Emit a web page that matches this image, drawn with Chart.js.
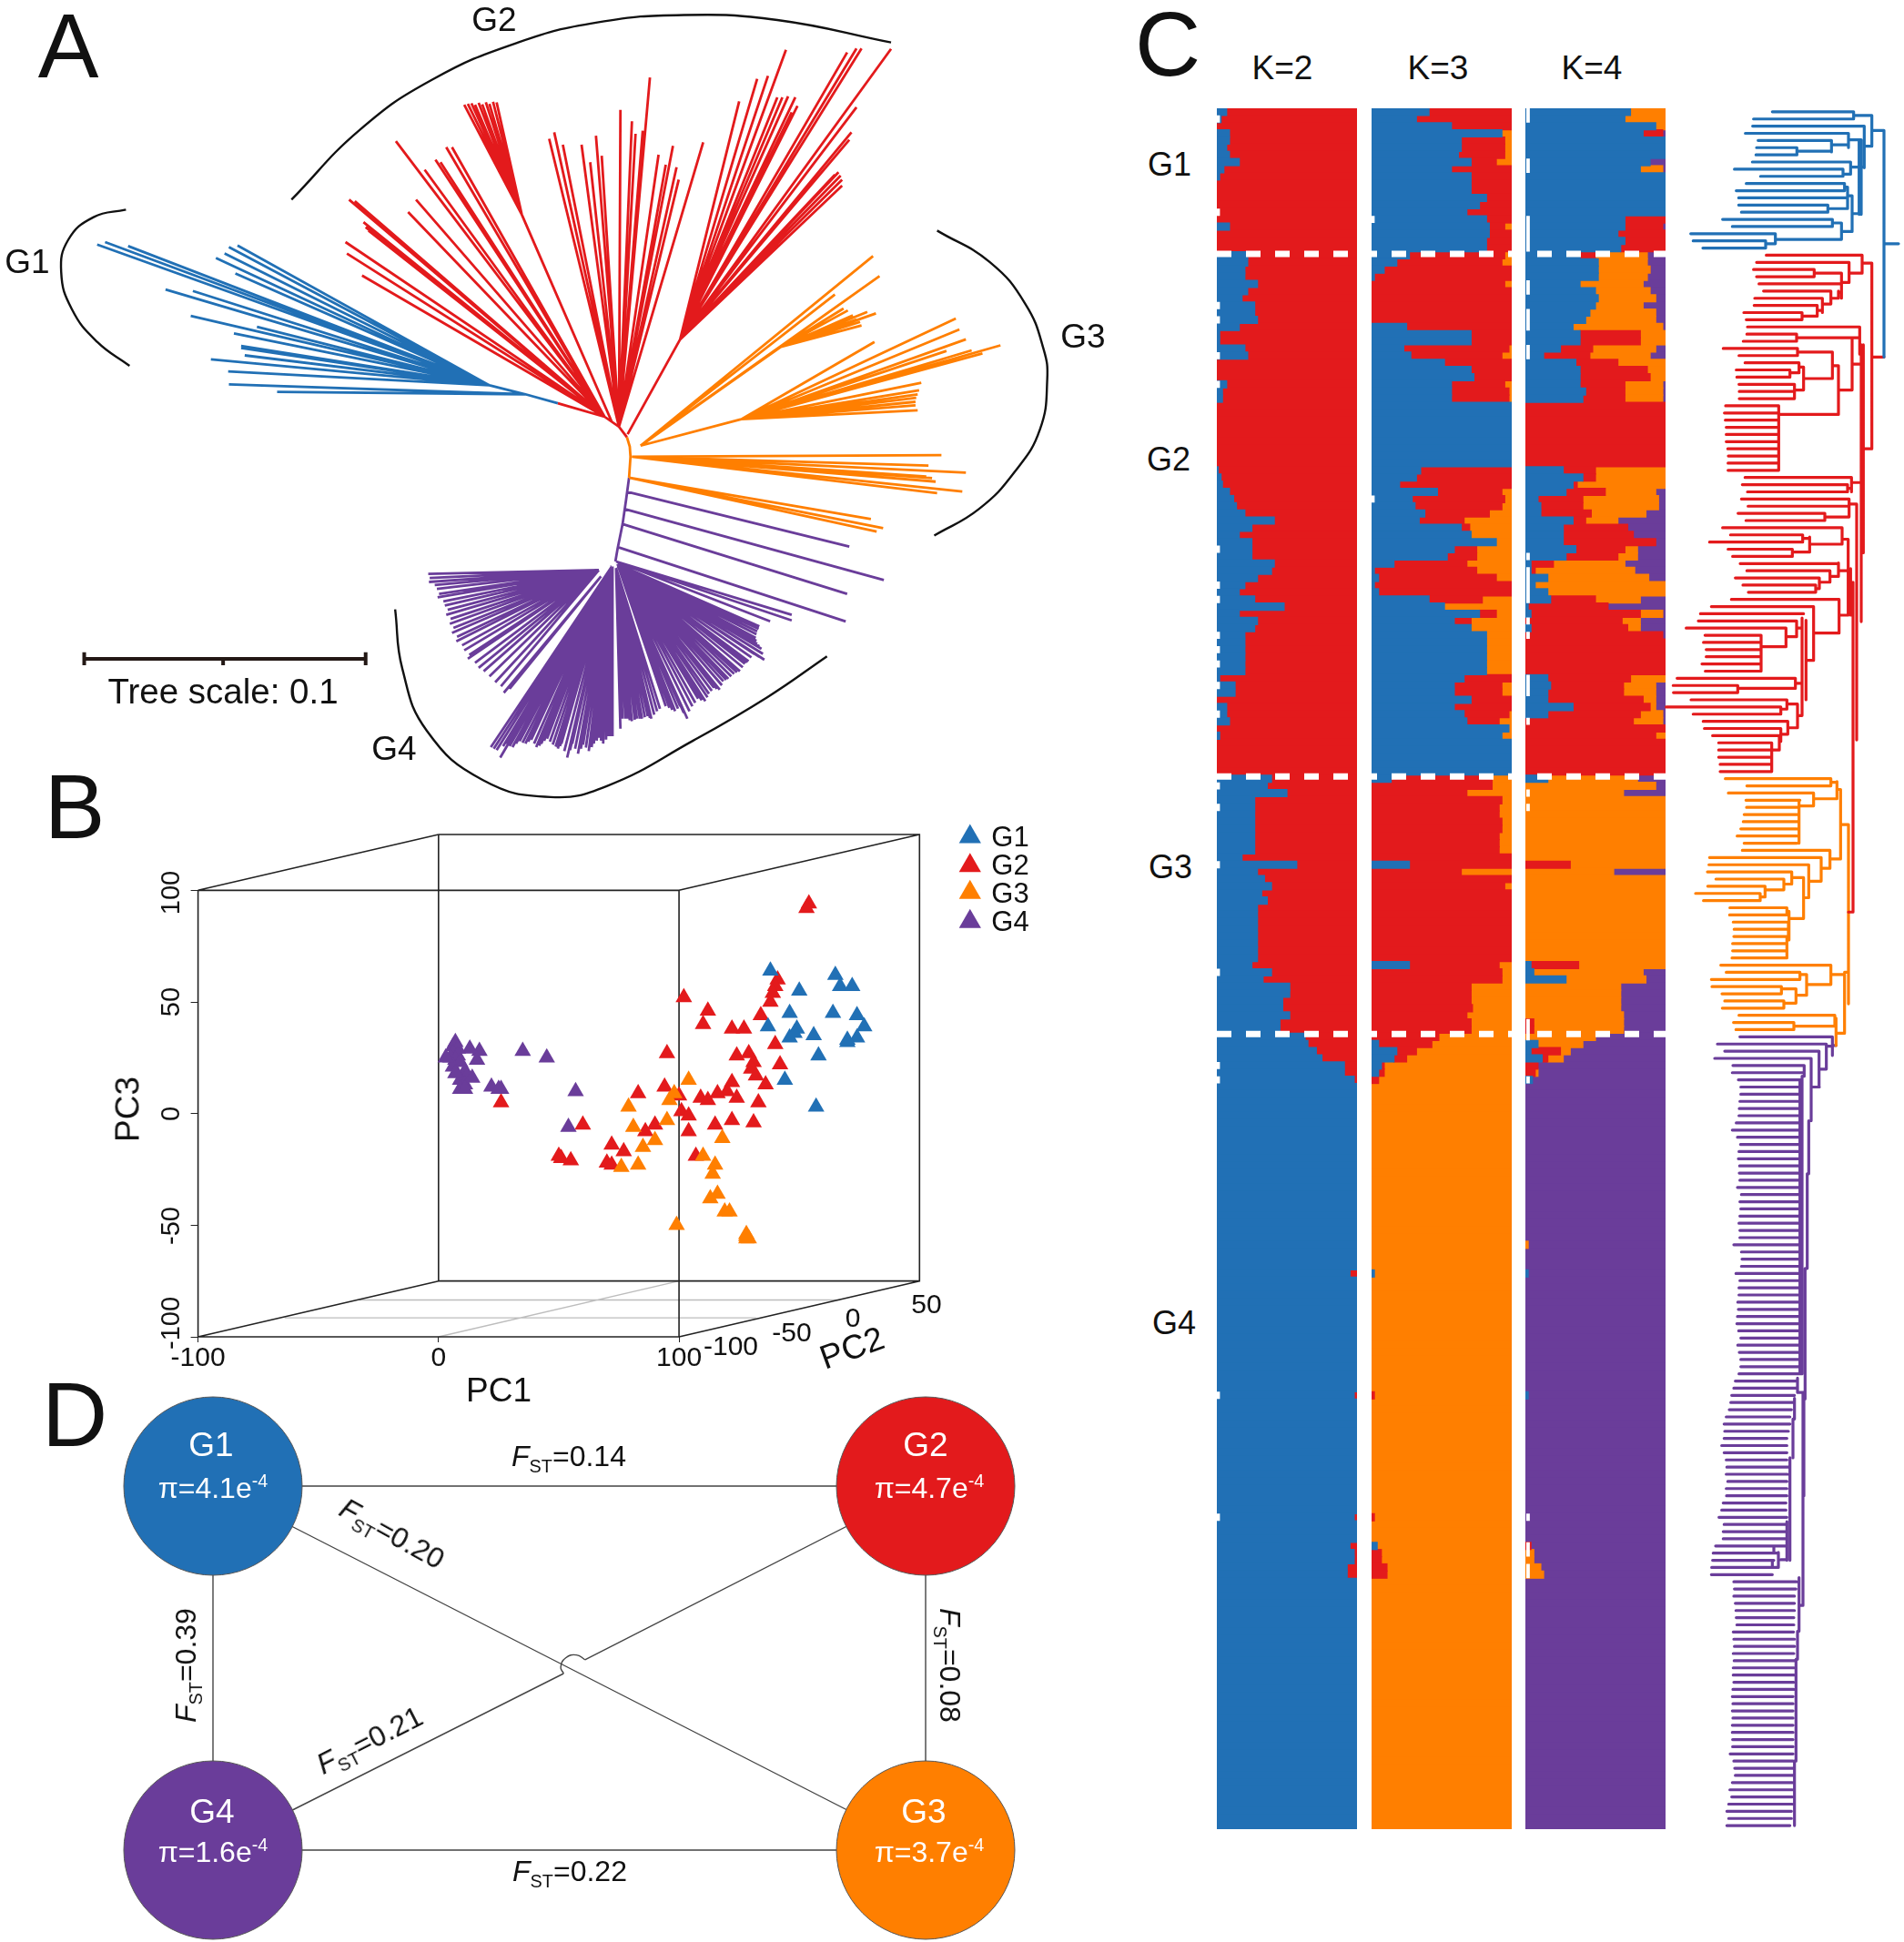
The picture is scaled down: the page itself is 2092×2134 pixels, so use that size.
<!DOCTYPE html>
<html>
<head>
<meta charset="utf-8">
<title>Population structure</title>
<script src="https://cdn.jsdelivr.net/npm/chart.js@4"></script>
<style>
  html, body { margin: 0; padding: 0; background: #fff; }
  #page { position: relative; width: 2092px; height: 2134px; overflow: hidden; font-family: "Liberation Sans", Arial, sans-serif; color: #111; }
  #page canvas { position: absolute; }
  .lbl { position: absolute; white-space: nowrap; line-height: 1; transform-origin: center; }
  .lbl sub, .lbl sup { font-size: .62em; line-height: 0; }
</style>
</head>
<body>
<div id="page"></div>
<script>
///////////// COLOURS /////////////
const BLUE = '#2170b5', RED = '#e31a1c', ORANGE = '#ff7f00', PURPLE = '#6a3d9a';

///////////// PANEL A: UNROOTED TREE (layout units) /////////////
const trunkPurple = [[855,1125],[858,1100],[865,1050],[870,1000],[874,957]];
const trunkOrange = [[874,957],[876,915],[875,895],[871,876]];
const stemRed = [[871,876],[860,855],[840,835],[775,808]];
const stemBlue = [[775,808],[730,790],[680,772]];

const blueNearTips = [[385,785],[318,770]];
const blueFarTips = [[317,744],[293,720],[340,712],[335,697],[335,693],[325,668],[357,655],[265,633],[230,580],[268,583],
  [135,490],[146,485],[178,493],[300,517],[312,508],[318,495],[330,492],[327,548]];

const redLeftTips = [[480,485],[482,508],[503,552],[485,400],[493,403],[505,445],[508,455],[512,462],[567,425],[578,400],
  [590,340],[605,320],[612,325],[620,295],[628,295],[550,283]];
const redWedgeBase = [[850,845],[725,430]];
const redWedgeTips = [[645,210],[650,208],[655,207],[660,210],[665,206],[670,209],[675,205],[680,208],[685,204],[690,205]];
const redMidTips = [[763,278],[770,265],[782,290],[808,290],[820,325],[828,272],[836,312],[862,220],[878,243],[883,268],
  [893,262],[903,155],[915,310],[925,330],[935,292],[940,335],[943,360],[977,285]];
const redRightBase = [[872,870],[945,680]];
const redRightTips = [[1027,203],[1052,158],[1067,152],[1092,100],[1080,195],[1087,195],[1095,193],[1105,195],[1108,212],[1100,225],
  [1177,105],[1190,97],[1197,97],[1238,98],[1190,215],[1183,265],[1180,280],[1165,345],[1168,352],[1170,360],[1170,372],[1160,350]];

const orangeUpperBase = [[890,893],[1030,840]];
const orangeUpperTips = [[1280,767],[1277,782],[1275,790],[1273,797],[1272,805],[1272,812],[1275,822],[1215,685],[1315,703],[1350,702],
  [1365,708],[1390,692],[1328,638],[1333,660],[1342,680]];
const orangeFanBase = [[890,893],[1085,695]];
const orangeFanTips = [[1217,628],[1205,625],[1197,652],[1195,645],[1190,640],[1185,632],[1178,622],[1172,618]];
const orangeLongTips = [[1160,590],[1213,513],[1222,553]];
const orangeMidTips = [[1308,912],[1290,933],[1342,947],[1300,965],[1295,958],[1287,955],[1337,985],[1302,988]];
const orangeLowTips = [[1210,1040],[1227,1058],[1218,1065]];

const purpleSingles = [[[870,985],[1180,1095]],[[868,1020],[1228,1162]],[[865,1050],[1177,1190]],[[860,1097],[1175,1245]]];
const purpleUpperTips = [[1100,1232],[1100,1243],[1070,1245]];
const purpleLeftTips = [[595,1150],[597,1158],[596,1166],[604,1172],[607,1180],[610,1190],[608,1197],[616,1205],[618,1213],[622,1222],
  [620,1232],[626,1240],[625,1250],[630,1258],[628,1268],[635,1276],[634,1285],[642,1293],[645,1303],[652,1312],
  [650,1320],[660,1328],[665,1338],[672,1345],[680,1355],[688,1367],[696,1375]];
const purpleThinTips = [[700,1388],[708,1380]];
const purpleBottomTips = [[682,1497],[686,1500],[690,1503],[695,1518],[699,1495],[703,1490],[708,1495],[712,1497],[717,1490],[722,1485],
  [726,1488],[730,1490],[734,1486],[738,1482],[742,1490],[745,1497],[749,1494],[752,1490],[756,1484],[760,1480],
  [764,1486],[768,1492],[772,1496],[775,1500],[778,1495],[780,1490],[784,1505],[788,1518],[792,1503],[795,1490],
  [799,1500],[803,1510],[807,1500],[810,1492],[814,1498],[818,1505],[822,1497],[825,1490],[829,1484],[832,1478],
  [835,1484],[838,1490],[842,1482],[845,1475],[848,1475],[851,1475]];
const purpleCentreTips = [[862,1460],[865,1440],[869,1440],[872,1440],[875,1443],[878,1445],[882,1442],[885,1440],[889,1440],[892,1440],[896,1437],[900,1435],[903,1438],[905,1440],[909,1432],[913,1425],[917,1420]];
const purpleRightTips = [[925,1415],[930,1418],[934,1422],[938,1425],[942,1420],[945,1415],[950,1428],[955,1440],[958,1425],[962,1415],
  [966,1408],[970,1400],[975,1403],[980,1405],[983,1397],[985,1390],[989,1384],[992,1378],[996,1380],[1000,1382],
  [1003,1373],[1005,1365],[1009,1362],[1012,1360],[1016,1355],[1020,1350],[1024,1347],[1028,1345],[1032,1337],[1035,1330],
  [1038,1327],[1040,1325],[1044,1317],[1048,1310],[1055,1316],[1062,1322],[1060,1310],[1058,1300],[1055,1295],[1052,1290],
  [1051,1284],[1050,1278],[1051,1271],[1052,1265],[1054,1260],[1055,1255],[1050,1252],[1045,1250]];

const arcG1 = [[175,420],[130,435],[95,480],[85,545],[100,620],[135,685],[180,733]];
const arcG2 = [[405,400],[500,260],[600,160],[720,85],[830,45],[950,30],[1080,40],[1238,85]];
const arcG3 = [[1302,462],[1375,525],[1425,610],[1450,700],[1455,760],[1445,860],[1410,945],[1360,1020],[1298,1073]];
const arcG4 = [[549,1221],[559,1340],[593,1464],[671,1563],[765,1597],[843,1575],[963,1484],[1066,1397],[1149,1315]];

const treeScaleBar = [[117,1320],[508,1320]];
const treeScaleTicks = [[[117,1307],[117,1333]],[[310,1320],[310,1333]],[[508,1307],[508,1333]]];

///////////// PANEL B: PCA, PROJECTED PC1 / PC3 /////////////
const pcaG1 = [[138,64],[165,62],[167,57],[172,57],[150,55],[146,45],[164,45],[174,44],[177,39],[149,38],
  [137,39],[146,34],[156,35],[170,32],[174,34],[158,26],[144,15],[157,3],[148,36],[170,33]];
const pcaG2 = [[154,94],[153,92],[141,60],[140,57],[139,54],[138,50],[102,52],[112,46],[134,44],[110,40],
  [122,38],[127,38],[140,31],[95,27],[124,26],[129,27],[131,23],[142,22],[130,20],[132,17],
  [122,14],[136,13],[94,12],[83,9],[100,8],[120,10],[116,9],[109,7],[112,6],[124,7],
  [133,5],[101,1],[104,-1],[122,-3],[131,-4],[115,-5],[90,-5],[60,-5],[86,-8],[104,-8],
  [26,5],[72,-14],[77,-17],[107,-19],[50,-19],[51,-20],[55,-21],[70,-22],[72,-23]];
const pcaG3 = [[104,15],[96,6],[79,3],[98,9],[95,-3],[81,-6],[90,-12],[85,-15],[118,-11],[110,-19],
  [115,-23],[114,-27],[116,-36],[113,-38],[83,-23],[76,-24],[119,-44],[121,-44],[99,-50],[128,-54],
  [128,-56],[128,-55],[129,-56]];
const pcaG4 = [[35,28],[45,25],[17,28],[13,29],[16,24],[7,32],[6,30],[8,29],[6,27],[8,26],
  [5,25],[7,24],[9,23],[6,21],[11,19],[12,17],[9,15],[11,13],[14,16],[9,11],
  [11,11],[22,12],[26,11],[25,11],[57,10],[54,-6],[3,25],[7,18]];
const legendX = [221, 221, 221, 221];
const legendY = [124, 111, 99, 86];

const boxLines = [
  [[-100,100],[100,100],[100,-100],[-100,-100],[-100,100]],
  [[0,125],[200,125],[200,-75],[0,-75],[0,125]],
  [[-100,100],[0,125]], [[100,100],[200,125]], [[-100,-100],[0,-75]], [[100,-100],[200,-75]]
];
const floorLines = [[[-33,-83.5],[167,-83.5]], [[-64,-91.5],[132,-91.5]], [[0,-100],[100,-75]]];

///////////// PANEL C: ANCESTRY (% per accession, boundaries left to right) /////////////
const ROWS = 240;
const rowLabels = Array.from({ length: ROWS }, (_, i) => 'S' + (i + 1));

// K=2 blue share, first 136 rows; the rest of G4 is solid blue but for k2G4
const k2Blue = [7,3,0,9,9,7,9,16,5,2, 0,0,0,0,0,0,9,0,0,0,
  22,22,20,20,29,22,18,27,27,29, 16,2,2,20,22,0,0,0,7,4, 4,0,0,0,0,0,0,0,0,0,
  1,3,4,9,12,14,20,41,25,16, 25,25,25,41,39,29,20,16,27,48, 16,29,27,20,20,20,20,20,20,2, 13,13,0,7,7,9,0,2,0,0, 0,0,0,
  39,36,50,27,27,27,27,27,27,27, 27,18,57,29,34,39,32,36,29,29, 29,29,29,29,29,29,25,39,33,52, 52,47,47,52,45,45,
  63,65,71,75,91,91,98];
const k2G4 = { 162: 95, 179: 98, 196: 98, 200: 95, 201: 98, 202: 98, 203: 93, 204: 93 };

// K=3 end of blue, end of red; orange fills to 100
const k3BlueEnd = [41,32,57,93,64,64,62,71,57,71, 71,71,82,77,68,82,84,84,82,82,
  27,18,9,2,0,0,0,0,0,0, 25,71,71,23,28,52,71,73,57,57, 57,100,100,100,100,100,100,100,100,100,
  35,32,20,47,29,31,38,34,64,71, 89,59,54,16,2,5,2,5,41,52, 77,59,71,82,82,82,82,82,82,66, 59,59,71,59,66,68,98,93,100,100, 100,100,100,
  14,0,0,0,0,0,0,0,0,0, 0,0,27,0,0,0,0,0,0,0, 0,0,0,0,0,0,27,0,0,0, 0,0,0,0,0,0,
  0,5,18,16,7,5,0];
const k3RedEnd = [100,100,100,93,95,95,95,89,100,100, 100,100,100,100,100,100,95,100,100,100,
  95,93,100,100,95,100,100,100,100,100, 100,100,100,98,93,100,100,100,95,98, 98,100,100,100,100,100,100,100,100,100,
  100,100,100,93,95,93,84,66,70,71, 89,75,75,68,75,89,100,100,79,52, 89,71,71,82,82,82,82,82,82,100, 93,93,100,100,98,91,98,93,100,100, 100,100,100,
  86,86,68,93,91,91,93,93,91,91, 91,100,100,64,100,95,100,100,100,100, 100,100,100,100,100,100,91,93,93,71, 71,71,72,68,71,71,
  48,43,32,25,9,9,5];
const k3G4Blue = { 162: 2, 200: 4 };
const k3G4Red = { 162: 2, 179: 2, 196: 2, 200: 4, 201: 7, 202: 7, 203: 11, 204: 11 };

// K=4 end of blue, end of red, end of orange; purple fills to 100
const k4BlueEnd = [75,71,93,84,100,100,100,89,82,100, 100,100,100,100,100,71,71,66,71,68,
  39,52,52,52,39,50,52,50,46,43, 34,39,39,25,13,36,39,39,39,43, 41,0,0,0,0,0,0,0,0,0,
  27,41,34,29,9,11,11,34,27,27, 27,36,29,4,4,16,7,16,18,2, 4,0,4,0,0,0,0,0,0,16, 18,16,16,34,16,0,0,0,0,0, 0,0,0,
  16,0,0,0,0,0,0,0,0,0, 0,0,0,0,0,0,0,0,0,0, 0,0,0,0,0,0,4,6,29,0, 0,0,0,0,0,0,
  0,9,4,12,0,0,5];
const k4RedEnd = [75,71,93,98,100,100,100,89,82,100, 100,100,100,100,100,100,98,100,100,100,
  50,52,52,52,39,50,52,50,46,43, 34,82,82,48,46,66,87,89,71,71, 71,100,100,100,100,100,100,100,100,100,
  50,50,37,57,41,41,47,43,73,77, 93,71,66,20,7,16,7,16,50,59, 82,69,73,98,100,100,100,100,100,75, 70,70,84,89,82,77,100,93,100,100, 100,100,100,
  16,0,0,0,0,0,0,0,0,0, 0,0,32,0,0,0,0,0,0,0, 0,0,0,0,0,0,38,6,29,0, 0,0,0,0,6,6,
  0,9,25,16,9,7,5];
const k4OrangeEnd = [100,100,100,98,100,100,100,89,98,100, 100,100,100,100,100,100,98,100,100,100,
  87,87,89,87,84,89,93,84,93,93, 98,100,100,93,89,100,100,100,98,98, 98,100,100,100,100,100,100,100,100,100,
  100,100,100,93,95,95,86,66,73,77, 93,80,80,71,78,88,100,100,82,59, 98,82,82,98,100,100,100,100,100,100, 93,93,93,93,98,98,100,100,100,100, 100,100,100,
  80,93,70,100,100,100,100,100,100,100, 100,100,100,63,100,100,100,100,100,100, 100,100,100,100,100,100,100,84,86,68, 68,68,68,70,70,70,
  50,41,32,27,9,9,5];
const k4G4Blue = { 162: 2, 179: 2 };
const k4G4Red = { 162: 2, 179: 2, 200: 4 };
const k4G4Orange = { 158: 2, 162: 2, 179: 2, 200: 4, 201: 6, 202: 6, 203: 11, 204: 13 };

const groupBreaks = [19.8, 92.7, 128.6];
const k2Notches = [1,14,27,29,34,38,61,66,68,73,75,77,80,84,94,97,105,120,133,135,179,196];
const k3Notches = [15,54];
const k4Notches = [0,1,7,8,15,16,17,18,19,24,25,28,29,30,33,34,62,64,65,66,67,68,71,73,79,80,81,85,95,97,127,128,129,135,196,200,201,203,204];

///////////// PANEL C: DENDROGRAM (tip and parent depth per row) /////////////
const tipsG1 = [442,380,377,353,395,390,388,376,317,403, 356,323,331,331,340,278,310,173,181,213];
const parentsG1 = [710,710,745,693,637,523,523,700,675,675, 680,680,690,625,625,640,640,452,420,420];
const tipsG2 = [422,390,380,390,398,413,384,382,348,356, 360,358,346,280,332,352,323,325,332,333, 333,
  288,284,287,290,290,290,295,297,296,296, 352,343,360,340,362,329,355,278,304,235, 296,311,336,358,320,345,363,
  307,241,205,198,158,220,215,224,224,210, 221,128,115,116,174,92,181,214,218,245, 265,265,265,270,270];
const parentsG2 = [738,695,580,580,670,635,607,590,540,540, 730,522,522,525,525,530,500,500,515,515, 515,
  463,463,463,463,463,463,463,463,463,463, 703,690,690,695,695,615,615,672,542,542, 508,508,660,632,597,585,585,
  662,578,545,522,487,405,405,405,405,405, 405,518,328,328,490,470,470,493,470,465, 440,440,440,440,440];
const tipsG3 = [287,358,297,355,357,349,346,338,326,349, 343,235,233,228,256,229,189,215,302,301,
  313,316,315,311,311,309,272,290,241,243, 276,285,277,332,314,322];
const parentsG3 = [635,635,578,533,530,528,525,523,523,523, 632,603,562,506,480,418,402,402,490,490,
  495,495,492,490,490,490,635,533,533,472, 472,480,480,648,513,513];
const tipsG4 = [335,261,285,252,
  312,310,330,338,338,335,333,332,323,310, 327,337,332,330,334,333,335,327,340,335,
  338,335,332,335,335,315,340,342,340,322, 335,332,332,328,330,327,325,331,338,328,
  333,338,338,332,320,315,308,305,300,290, 283,285,283,275,283,290,292,290,295,290,
  291,280,275,266,283,280,280,255,247,245, 242,241,315,317,315,320,322,323,325,313,
  315,317,313,316,313,313,315,312,310,312, 310,312,310,310,311,311,303,315,318,320,
  310,302,308,298,292,298,292];
const parentsG4 = [638,618,596,568,
  547,547,540,535,535,530,530,530,528,528, 532,532,530,530,530,530,528,530,530,530,
  530,528,530,530,530,528,530,530,532,530, 530,530,527,532,530,530,532,530,530,528,
  534,530,530,535,525,520,515,512,505,500, 500,495,490,490,490,490,495,492,490,490,
  490,487,487,490,490,490,490,487,447,447, 442,442,522,520,515,515,515,513,513,512,
  515,515,513,515,513,513,512,512,510,510, 510,510,510,510,510,510,510,510,510,510,
  508,508,508,508,505,505,500];

// internal nodes: vertical [depth, row, row], horizontal [depth, depth, row]
const blueV = [[710,0,1],[770,.5,4.8],[810,2.6,34.2],[745,2,7.8],[735,3.9,14.3],[728,3.9,14.3],[693,3,5],[637,4,5.6],[523,5,6],
  [700,7,8.7],[675,8,9],[680,10,11],[690,10.5,13.5],[705,11.7,16.7],[625,13,14],[640,15,16],[670,15.5,17.8],[452,17,18.4],[420,18,19]];
const blueH = [[710,770,.5],[745,770,4.8],[770,810,2.6],[810,858,18.4],[693,735,3.9],[637,693,4.6],[523,637,5.5],[700,745,7.7],[675,700,8.7],
  [680,690,10.5],[690,705,11.7],[625,690,13.5],[705,728,14.2],[640,670,15.5],[670,705,16.7],[452,670,17.8],[420,452,18.4]];
const redV = [[738,20,22.5],[695,21,23.8],[670,22.5,26],[580,22,23],[660,25,26],[635,25,26.8],[607,26,28],[590,27,28.5],[540,28,29],
  [770,21.1,47],[730,30,33.8],[705,31.5,38.8],[522,31,32],[660,35.4,42.2],[463,41,50],[640,33.5,37.2],[525,33,34],[545,35.6,38.8],[530,35,36.4],[500,36,37],[515,38,40],
  [735,32.5,71.1],[742,32.5,61.5],[703,51,53],[690,52,53],[695,54,56.5],[615,56,57],[720,54.7,87.6],[708,65.6,111.6],
  [692,59.6,70.2],[672,58,60.3],[565,59.3,61.4],[542,59,60],[508,61,62],[660,62.9,64.8],[632,64,65.6],[597,65,66.5],[585,66,67],[700,63.7,70.2],
  [662,68,72.7],[578,69,76.5],[553,70.9,82],[540,70.6,84.2],[522,71,73.2],[487,72,74.6],[405,73,78],[518,79,80.4],[328,80,81],
  [525,82.6,85.9],[490,82,83.3],[470,83,84],[493,85,86.8],[470,86,87.8],[465,87,89],[440,88,92]];
const redH = [[738,770,21.1],[770,810,34.2],[742,770,47],[695,738,22.5],[670,695,23.8],[580,670,22.5],[660,670,25.2],[635,660,26],[607,635,26.8],[590,607,27.7],[540,590,28.5],
  [730,735,33.8],[705,730,31.5],[522,705,31.5],[660,705,38.8],[463,660,42.2],[640,660,35.4],[525,640,33.5],[545,640,37.2],[530,545,35.6],[500,530,36.4],[515,545,38.8],[705,742,35.2],
  [703,742,51.7],[690,703,52.5],[695,720,54.7],[615,695,56.5],[672,692,59.6],[565,672,60.3],[542,565,59.5],[508,565,61.4],[632,660,64.8],[597,632,65.6],[585,597,66.5],[660,700,64],
  [662,692,70.2],[578,662,72.7],[553,578,76.5],[525,540,72],[487,522,73.2],[405,487,74.6],[518,540,79.7],[328,518,80.4],[525,540,84.2],[490,525,82.6],[470,490,83.3],[493,525,85.9],[470,493,86.8],[440,465,89],[693,708,111.6]];
const orangeV = [[693,99.4,124.4],[667,94.5,104.2],[655,93.4,95.8],[635,93,94],[578,95,96.8],[530,96,102],[632,103,105.5],[603,104,107.3],[562,105,109.6],
  [545,106.8,112.5],[506,106,107.7],[480,107,108.5],[418,108,109.5],[402,109,110],[497,111.5,115.5],[490,111,112],[495,113,115],[490,115,118],
  [680,120.3,128.5],[635,119,121.7],[555,120.3,123.2],[533,120,121],[520,122.3,124.3],[472,122,123],[480,124,125],[652,126.4,130.2],[648,126,127.5],[513,127,128]];
const orangeH = [[672,693,99.4],[655,667,94.5],[635,655,93.5],[578,655,95.8],[533,578,96.8],[632,667,104.2],[603,632,105.5],[562,603,107.3],[545,562,109.6],[506,545,106.8],[480,506,107.7],[418,480,108.5],[402,418,109.5],
  [497,545,112.5],[680,693,120],[635,680,120.3],[555,635,121.7],[533,555,120.3],[520,555,123.2],[472,520,122.3],[480,520,124.3],[652,680,128.5],[648,652,126.4],[513,648,127.5]];
const purpleV = [[640,129,131.6],[620,130,133.5],[596,131,136],[570,132,140.7],[562,140.7,148.1],[557,148.1,161.3],[550,161.3,179.5],[546,179.5,193],[543,178.6,208.3],
  [547,133,134.5],[540,134.5,176],[533,135,176],[530,204.4,211.9],[525,211.9,215.8],[520,215.8,230],[515,230,239],[525,176.6,178.6],[515,179.4,182.3],[510,182.3,187.7],[500,187.7,202],[490,196.6,202],[462,200.9,203],[447,200,201],[442,202,203]];
const purpleH = [[640,652,130.2],[620,640,130.3],[596,620,133.5],[570,597,136],[535,543,208.3],[525,545,178.6],[470,490,201.9],[447,462,201],[442,462,203]];

///////////// PANEL D: DIVERSITY AND DIFFERENTIATION /////////////
const popNames = ['G1', 'G2', 'G3', 'G4'];
const popColors = [BLUE, RED, ORANGE, PURPLE];
const popX = [0, 1, 1, 0];
const popY = [0, 0, 1, 1];
const popPi = ['4.1', '4.7', '3.7', '1.6'];
const fstLinks = [[0,1],[1,2],[2,3],[3,0],[0,2]];
const crossHopEnds = [[[1,0],[.522,.477]], [[.492,.515],[0,1]]];
const crossHopArc = [[.522,.477],[.510,.464],[.495,.472],[.488,.497],[.492,.515]];

///////////// HELPERS /////////////
const page = document.getElementById('page');
Chart.defaults.font.family = '"Liberation Sans", Arial, sans-serif';
Chart.defaults.animation = false;

function newCanvas(left, top, width, height) {
  const c = document.createElement('canvas');
  c.width = width; c.height = height;
  c.style.left = left + 'px'; c.style.top = top + 'px';
  c.style.width = width + 'px'; c.style.height = height + 'px';
  page.appendChild(c);
  return c.getContext('2d');
}

function label(html, cx, cy, size, opts) {
  opts = opts || {};
  const d = document.createElement('div');
  d.className = 'lbl';
  d.innerHTML = html;
  d.style.left = cx + 'px';
  d.style.top = cy + 'px';
  d.style.fontSize = size + 'px';
  if (opts.color) d.style.color = opts.color;
  d.style.transform = 'translate(-50%,-50%) rotate(' + (opts.rotate || 0) + 'deg)';
  page.appendChild(d);
}

const GAP = { x: null, y: null };
const toPts = list => list.map(p => ({ x: p[0], y: p[1] }));

// one polyline per list, broken by gaps so a dataset can hold many strokes
function strokes(lists) {
  const out = [];
  lists.forEach(l => { out.push(...toPts(l), GAP); });
  return out;
}
function rays(node, tips) { return tips.map(t => [node, t]); }

function lineSet(data, color, width, extra) {
  return Object.assign({ type: 'scatter', data, showLine: true, pointRadius: 0, borderColor: color, borderWidth: width, backgroundColor: color, clip: false }, extra || {});
}

function plainScales(xMin, xMax, yMin, yMax, reverseY) {
  return {
    x: { type: 'linear', display: false, min: xMin, max: xMax },
    y: { type: 'linear', display: false, min: yMin, max: yMax, reverse: !!reverseY }
  };
}
function baseOptions(scales) {
  return { responsive: false, animation: false, events: [], devicePixelRatio: 1, layout: { padding: 0, autoPadding: false },
    plugins: { legend: { display: false }, tooltip: { enabled: false }, title: { display: false } }, scales };
}

///////////// TREE CHART /////////////
const arcStyle = { tension: 0.45 };
new Chart(newCanvas(0, 0, 1240, 900), {
  type: 'scatter',
  data: { datasets: [
    lineSet(strokes([stemBlue, ...rays(stemBlue[1], blueNearTips), ...rays(stemBlue[2], blueFarTips)]), BLUE, 2.8),
    lineSet(strokes([stemRed, redWedgeBase, redRightBase, ...rays(stemRed[2], redLeftTips), ...rays(redWedgeBase[1], redWedgeTips), ...rays(stemRed[1], redMidTips), ...rays(redRightBase[1], redRightTips)]), RED, 2.8),
    lineSet(strokes([trunkOrange, orangeUpperBase, orangeFanBase, ...rays(orangeUpperBase[1], orangeUpperTips), ...rays(orangeFanBase[1], orangeFanTips), ...rays(orangeFanBase[0], orangeLongTips), ...rays([878,915], orangeMidTips), ...rays([874,957], orangeLowTips)]), ORANGE, 2.8),
    lineSet(strokes([trunkPurple, ...purpleSingles, ...rays([856,1125], purpleUpperTips), ...rays([832,1142], purpleLeftTips), ...rays([835,1155], purpleThinTips), ...rays([850,1135], purpleBottomTips), ...rays([856,1138], purpleCentreTips), ...rays([858,1130], purpleRightTips)]), PURPLE, 2.8),
    lineSet(toPts(arcG1), '#111', 2.4, arcStyle),
    lineSet(toPts(arcG2), '#111', 2.4, arcStyle),
    lineSet(toPts(arcG3), '#111', 2.4, arcStyle),
    lineSet(toPts(arcG4), '#111', 2.4, arcStyle),
    lineSet(strokes([treeScaleBar, ...treeScaleTicks]), '#231815', 4)
  ] },
  options: baseOptions(plainScales(0, 1568, 0, 1641, true))
});

///////////// PCA CHART /////////////
const pcaSet = (list, color, size) => ({ data: toPts(list), pointStyle: 'triangle', pointRadius: size, pointBackgroundColor: color, pointBorderWidth: 0, showLine: false, clip: false });
const legendSet = (i, color) => pcaSet([[legendX[i], legendY[i]]], color, 14);
const onlyUpTo = top => s => { s.ticks = s.ticks.filter(t => t.value <= top); };
const pcaOptions = baseOptions({
  x: { type: 'linear', min: -100, max: 240, afterFit: s => { s.height = 71; }, afterBuildTicks: onlyUpTo(100),
    border: { display: false }, grid: { drawOnChartArea: false, drawTicks: true, tickLength: 6, color: '#222' },
    ticks: { stepSize: 100, color: '#111', font: { size: 30 }, padding: 0, maxRotation: 0 } },
  y: { type: 'linear', min: -100, max: 125, afterFit: s => { s.width = 117.6; }, afterBuildTicks: onlyUpTo(100),
    border: { display: false }, grid: { drawOnChartArea: false, drawTicks: true, tickLength: 8, color: '#222' },
    ticks: { stepSize: 50, display: false } }
});
pcaOptions.layout.padding = { top: 17, right: 14 };
new Chart(newCanvas(100, 900, 1030, 640), {
  type: 'scatter',
  data: { datasets: [
    pcaSet(pcaG4, PURPLE, 10.5), pcaSet(pcaG3, ORANGE, 10.5), pcaSet(pcaG1, BLUE, 10.5), pcaSet(pcaG2, RED, 10.5),
    legendSet(0, BLUE), legendSet(1, RED), legendSet(2, ORANGE), legendSet(3, PURPLE),
    lineSet(strokes(boxLines), '#222', 1.6),
    lineSet(strokes(floorLines), '#bdbdbd', 1.4)
  ] },
  options: pcaOptions
});

///////////// STRUCTURE BARS /////////////
function overRows(top, g4, dflt) {
  const out = [];
  for (let i = 0; i < ROWS; i++) {
    if (i < top.length) out.push(top[i]);
    else out.push(g4[i] !== undefined ? g4[i] : dflt);
  }
  return out;
}
// width of one stacked piece; empty pieces stay null so nothing is drawn for them
const diff = (a, b) => a.map((v, i) => (v - b[i] > 0 ? v - b[i] : null));
const hundred = rowLabels.map(() => 100);
const zero = rowLabels.map(() => 0);

const k2Edge = overRows(k2Blue, k2G4, 100);
const k3Edge1 = overRows(k3BlueEnd, k3G4Blue, 0);
const k3Edge2 = overRows(k3RedEnd, k3G4Red, 0);
const k4Edge1 = overRows(k4BlueEnd, k4G4Blue, 0);
const k4Edge2 = overRows(k4RedEnd, k4G4Red, 0);
const k4Edge3 = overRows(k4OrangeEnd, k4G4Orange, 0);

function structureChart(left, width, series) {
  const options = baseOptions({
    x: { type: 'linear', stacked: true, display: false, min: 0, max: 100 },
    y: { type: 'category', stacked: true, display: false }
  });
  options.indexAxis = 'y';
  new Chart(newCanvas(left, 119, width, 1891), {
    type: 'bar',
    data: { labels: rowLabels, datasets: series.map(s => ({ data: s[0], backgroundColor: s[1], borderWidth: 0, barPercentage: 1, categoryPercentage: 1, inflateAmount: 0.6 })) },
    options
  });
}

structureChart(1337, 154, [[diff(k2Edge, zero), BLUE], [diff(hundred, k2Edge), RED]]);
structureChart(1507, 154, [[diff(k3Edge1, zero), BLUE], [diff(k3Edge2, k3Edge1), RED], [diff(hundred, k3Edge2), ORANGE]]);
structureChart(1676, 154, [[diff(k4Edge1, zero), BLUE], [diff(k4Edge2, k4Edge1), RED], [diff(k4Edge3, k4Edge2), ORANGE], [diff(hundred, k4Edge3), PURPLE]]);

// white dashes between the groups and the small nicks on the left edge of the bars
const notchStrokes = (rows, start, len) => rows.map(r => [[start, r], [start + len, r]]);
new Chart(newCanvas(1337, 119, 494, 1891), {
  type: 'scatter',
  data: { datasets: [
    lineSet(strokes(groupBreaks.map(r => [[0, r], [320.8, r]])), '#fff', 7, { borderDash: [16, 16], clip: true }),
    lineSet(strokes(notchStrokes(k2Notches, 0, 2.2)), '#fff', 7.9),
    lineSet(strokes(notchStrokes(k3Notches, 110.4, 2.2)), '#fff', 7.9),
    lineSet(strokes(notchStrokes(k4Notches, 220.8, 2.5)), '#fff', 7.9)
  ] },
  options: baseOptions(plainScales(0, 320.8, -0.5, 239.5, true))
});

///////////// DENDROGRAM /////////////
function dendroStrokes(start, tips, parents, verts, horiz) {
  const lists = tips.map((t, i) => [[t, start + i], [parents[i], start + i]]);
  verts.forEach(v => lists.push([[v[0], v[1]], [v[0], v[2]]]));
  horiz.forEach(h => lists.push([[h[0], h[2]], [h[1], h[2]]]));
  return strokes(lists);
}
const dendroStyle = { borderCapStyle: 'round' };
new Chart(newCanvas(1800, 100, 292, 1930), {
  type: 'scatter',
  data: { datasets: [
    lineSet(dendroStrokes(0, tipsG1, parentsG1, blueV, blueH), BLUE, 3.2, dendroStyle),
    lineSet(dendroStrokes(20, tipsG2, parentsG2, redV, redH), RED, 3.2, dendroStyle),
    lineSet(dendroStrokes(93, tipsG3, parentsG3, orangeV, orangeH), ORANGE, 3.2, dendroStyle),
    lineSet(dendroStrokes(129, tipsG4, parentsG4, purpleV, purpleH), PURPLE, 3.2, dendroStyle)
  ] },
  options: baseOptions(plainScales(0, 876, -2.9, 242.03, true))
});

///////////// FST NETWORK /////////////
const nodeSet = {
  data: popX.map((x, i) => ({ x, y: popY[i] })),
  pointRadius: 98, pointBackgroundColor: popColors, pointBorderColor: '#555', pointBorderWidth: 1, showLine: false, clip: false
};
const linkLists = fstLinks.map(l => [[popX[l[0]], popY[l[0]]], [popX[l[1]], popY[l[1]]]]);
new Chart(newCanvas(120, 1530, 1010, 604), {
  type: 'scatter',
  data: { datasets: [
    nodeSet,
    lineSet(strokes([...linkLists, ...crossHopEnds]), '#444', 1.4),
    lineSet(toPts(crossHopArc), '#444', 1.4, { tension: 0.5 })
  ] },
  options: baseOptions(plainScales(-0.1456, 1.1443, -0.2575, 1.2525, true))
});

///////////// TEXT /////////////
label('A', 75, 50, 100); label('B', 82, 886, 100); label('C', 1283, 48, 100); label('D', 82, 1554, 100);

label('G2', 543, 21, 37); label('G1', 30, 287, 37); label('G3', 1190, 369, 37); label('G4', 433, 822, 37);
label('Tree scale: 0.1', 245, 760, 38.5);

legendY.forEach((_, i) => label(popNames[i], 1110, 919 + i * 31, 31));
label('PC1', 548, 1527, 37);
label('PC3', 140, 1219, 37, { rotate: -90 });
label('PC2', 936, 1481, 37, { rotate: -20 });
[['100', 981], ['50', 1101], ['0', 1224], ['-50', 1347], ['-100', 1454]].forEach(t => label(t[0], 187, t[1], 29, { rotate: -90 }));
[['-100', 803, 1479], ['-50', 870, 1464], ['0', 937, 1448], ['50', 1018, 1433]].forEach(t => label(t[0], t[1], t[2], 30));

label('K=2', 1409, 74, 37); label('K=3', 1580, 74, 37); label('K=4', 1749, 74, 37);
label('G1', 1285, 181, 36); label('G2', 1284, 505, 36); label('G3', 1286, 953, 36); label('G4', 1290, 1454, 36);

const nameCentres = [[232, 1587], [1017, 1587], [1015, 1990], [233, 1990]];
const piCentres = [[234, 1635], [1021, 1635], [1021, 2035], [234, 2035]];
popNames.forEach((n, i) => {
  label(n, nameCentres[i][0], nameCentres[i][1], 37, { color: '#fff' });
  label('π=' + popPi[i] + 'e<sup>-4</sup>', piCentres[i][0], piCentres[i][1], 32, { color: '#fff' });
});

const fst = v => '<i>F</i><sub>ST</sub>=' + v;
label(fst('0.14'), 625, 1600, 32);
label(fst('0.20'), 431, 1685, 32, { rotate: 29 });
label(fst('0.39'), 204, 1830, 32, { rotate: -90 });
label(fst('0.08'), 1044, 1830, 32, { rotate: 90 });
label(fst('0.21'), 406, 1912, 32, { rotate: -27 });
label(fst('0.22'), 626, 2056, 32);
</script>
</body>
</html>
